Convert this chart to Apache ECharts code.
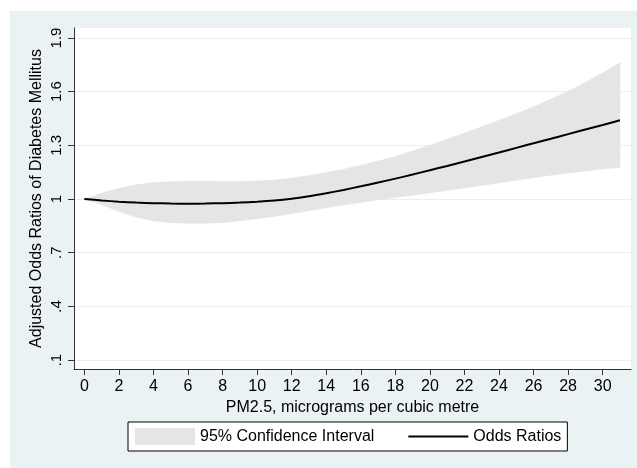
<!DOCTYPE html>
<html>
<head>
<meta charset="utf-8">
<script src="https://cdn.jsdelivr.net/npm/echarts@6/dist/echarts.min.js"></script>
<style>
  html, body { margin: 0; padding: 0; background: #fff; }
  #chart { width: 637px; height: 468px; }
</style>
</head>
<body>
<div id="chart"></div>
<script>
// PM2.5 (micrograms per cubic metre)
const pm25 = [0, 1, 2, 3, 4, 5, 6, 7, 8, 9, 10, 11, 12, 13, 14, 15, 16, 17, 18, 19, 20, 21, 22, 23, 24, 25, 26, 27, 28, 29, 30, 31]
// adjusted odds ratios
const oddsRatio = [1.000, 0.992, 0.985, 0.980, 0.977, 0.975, 0.974, 0.975, 0.977, 0.980, 0.985, 0.992, 1.002, 1.015, 1.032, 1.051, 1.071, 1.092, 1.114, 1.137, 1.161, 1.185, 1.210, 1.235, 1.260, 1.286, 1.312, 1.337, 1.363, 1.389, 1.414, 1.440]
// 95% CI
const ciLower = [1.000, 0.968, 0.930, 0.898, 0.877, 0.868, 0.864, 0.864, 0.868, 0.878, 0.890, 0.903, 0.918, 0.935, 0.951, 0.966, 0.980, 0.995, 1.008, 1.021, 1.034, 1.048, 1.062, 1.076, 1.091, 1.105, 1.119, 1.133, 1.146, 1.157, 1.168, 1.177]
const ciUpper = [1.000, 1.032, 1.060, 1.080, 1.092, 1.097, 1.099, 1.099, 1.098, 1.098, 1.101, 1.107, 1.117, 1.131, 1.148, 1.167, 1.188, 1.212, 1.238, 1.268, 1.300, 1.334, 1.369, 1.404, 1.440, 1.477, 1.516, 1.558, 1.603, 1.652, 1.705, 1.762]

const xTicks = [0, 2, 4, 6, 8, 10, 12, 14, 16, 18, 20, 22, 24, 26, 28, 30]
const yTicks = [0.1, 0.4, 0.7, 1.0, 1.3, 1.6, 1.9]
const yTickLabels = ['.1', '.4', '.7', '1', '1.3', '1.6', '1.9']

const chart = echarts.init(document.getElementById('chart'))

const font = 'Liberation Sans, Arial, sans-serif'

// whole CI band as one polygon: upper edge forward, lower edge back
function renderBand(params, api) {
  if (params.dataIndex !== 0) return
  const pts = []
  for (let i = 0; i < pm25.length; i++) pts.push(api.coord([pm25[i], ciUpper[i]]))
  for (let i = pm25.length - 1; i >= 0; i--) pts.push(api.coord([pm25[i], ciLower[i]]))
  return {
    type: 'polygon',
    shape: { points: pts },
    style: { fill: '#e5e5e5', stroke: '#e5e5e5', lineWidth: 0.5 }
  }
}

const option = {
  animation: false,
  backgroundColor: '#fff',
  textStyle: { fontFamily: font },
  graphic: [{
    type: 'rect',
    z: -10,
    silent: true,
    shape: { x: 10, y: 11, width: 627, height: 457 },
    style: { fill: '#eaf2f3' }
  }],
  grid: {
    left: 74,
    right: 6,
    top: 28,
    bottom: 99,
    show: true,
    backgroundColor: '#fff',
    borderWidth: 0
  },
  legend: {
    left: 128,
    top: 422,
    padding: [6, 6, 6, 7],
    backgroundColor: '#fff',
    borderColor: '#000',
    borderWidth: 1,
    borderRadius: 0,
    itemWidth: 60,
    itemHeight: 17,
    itemGap: 33,
    textStyle: { fontSize: 16, color: '#000', fontFamily: font },
    data: [
      { name: '95% Confidence Interval', icon: 'rect', itemStyle: { color: '#e5e5e5', borderWidth: 0 } },
      { name: 'Odds Ratios', itemStyle: { opacity: 0 } }
    ]
  },
  xAxis: {
    type: 'value',
    min: -0.6,
    max: 31.64,
    name: 'PM2.5, micrograms per cubic metre',
    nameLocation: 'middle',
    nameGap: 28,
    nameTextStyle: { fontSize: 16, color: '#000' },
    axisLine: { show: true, onZero: false, lineStyle: { color: '#333', width: 1 } },
    axisTick: { show: true, length: 6, lineStyle: { color: '#333' }, customValues: xTicks },
    axisLabel: { fontSize: 16, color: '#000', margin: 10, customValues: xTicks },
    splitLine: { show: false }
  },
  yAxis: {
    type: 'value',
    min: 0.05,
    max: 1.956,
    name: 'Adjusted Odds Ratios of Diabetes Mellitus',
    nameLocation: 'middle',
    nameGap: 29,
    nameMoveOverlap: false,
    nameTextStyle: { fontSize: 16, color: '#000' },
    axisLine: { show: true, onZero: false, lineStyle: { color: '#333', width: 1 } },
    axisTick: { show: true, length: 6, lineStyle: { color: '#333' }, customValues: yTicks },
    axisLabel: {
      fontSize: 15,
      color: '#000',
      rotate: 90,
      margin: 10,
      customValues: yTicks,
      formatter: (v) => {
        const i = yTicks.findIndex(t => Math.abs(t - v) < 1e-6)
        return i >= 0 ? yTickLabels[i] : ''
      }
    },
    splitLine: { show: true, lineStyle: { color: '#e6eff1', width: 1 } }
  },
  series: [
    {
      name: '95% Confidence Interval',
      type: 'custom',
      silent: true,
      itemStyle: { color: '#e5e5e5' },
      renderItem: renderBand,
      encode: { x: 0, y: [1, 2] },
      data: pm25.map((x, i) => [x, ciLower[i], ciUpper[i]])
    },
    {
      name: 'Odds Ratios',
      type: 'line',
      symbol: 'none',
      smooth: 0.3,
      z: 3,
      itemStyle: { color: '#000' },
      lineStyle: { color: '#000', width: 2 },
      data: pm25.map((x, i) => [x, oddsRatio[i]])
    }
  ]
}

chart.setOption(option)
</script>
</body>
</html>
